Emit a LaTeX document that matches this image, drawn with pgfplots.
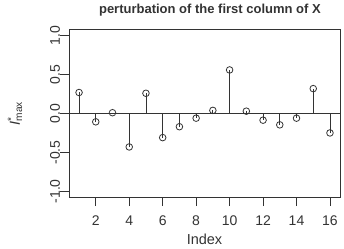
\documentclass[border=0pt]{standalone}
\usepackage{fontspec}
\setmainfont{Liberation Sans}
\usepackage{pgfplots}
\pgfplotsset{compat=1.18}
\definecolor{ink}{HTML}{333333}
\begin{document}
\begin{tikzpicture}
\path[use as bounding box] (-69pt,-50.5pt) rectangle (275pt,197.5pt);
\begin{axis}[
  at={(0pt,0pt)}, anchor=south west,
  scale only axis, width=271pt, height=168pt,
  xmin=0.4, xmax=16.6, ymin=-1.08, ymax=1.08,
  axis line style={ink, line width=0.8pt},
  tick align=outside, major tick length=8.5pt,
  xtick pos=bottom, ytick pos=left,
  tick style={ink, line width=0.8pt},
  xtick={2,4,6,8,10,12,14,16},
  xticklabels={2,4,6,8,10,12,14,16},
  ytick={-1,-0.5,0,0.5,1},
  yticklabels={-1.0,-0.5,0.0,0.5,1.0},
  ticklabel style={font=\fontsize{14}{16}\selectfont, text=ink},
  xticklabel style={anchor=north, yshift=-6pt},
  yticklabel style={xshift=3pt, rotate=90, anchor=south},
  every axis title/.style={at={(0.52,1)}, anchor=base, yshift=15.5pt},
  title={\fontsize{13}{15}\selectfont\bfseries\color{ink}perturbation of the first column of X},
  xlabel={Index},
  xlabel style={at={(0.5,-0.2798)}, anchor=base, font=\fontsize{14.5}{16}\selectfont, text=ink},
  ylabel={\textit{I}\rlap{\textsuperscript{*}}\textsubscript{max}},
  ylabel style={at={(-0.181,0.5)}, anchor=base, font=\fontsize{14.5}{16}\selectfont, text=ink},
  clip=false,
]
\addplot[ink, line width=0.8pt] coordinates {(0.4,0) (16.6,0)};
\addplot[ycomb, ink, line width=0.8pt, mark=o, mark size=3.3pt, mark options={ink, line width=0.8pt, fill=white}] coordinates {
(1,0.27) (2,-0.107) (3,0.01) (4,-0.43) (5,0.26) (6,-0.31) (7,-0.17) (8,-0.06)
(9,0.04) (10,0.56) (11,0.03) (12,-0.086) (13,-0.146) (14,-0.06) (15,0.32) (16,-0.25)};
\end{axis}
\end{tikzpicture}
\end{document}
